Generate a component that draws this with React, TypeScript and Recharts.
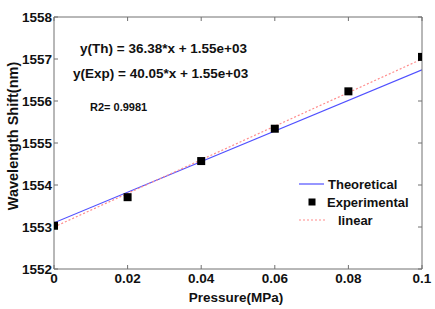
import React from 'react';
import { ComposedChart, Line, Scatter, XAxis, YAxis, Customized } from 'recharts';

const pressure = [0, 0.02, 0.04, 0.06, 0.08, 0.1];
const experimental = [1553.03, 1553.71, 1554.57, 1555.34, 1556.23, 1557.05];
const theoreticalX = [0, 0.1];
const theoreticalY = [1553.1, 1556.74];
const linearX = [0, 0.1];
const linearY = [1553.0, 1557.0];
const xTicks = [0, 0.02, 0.04, 0.06, 0.08, 0.1];
const yTicks = [1552, 1553, 1554, 1555, 1556, 1557, 1558];
const annotations = ['y(Th) = 36.38*x + 1.55e+03', 'y(Exp) = 40.05*x + 1.55e+03', 'R2= 0.9981'];
const legendNames = ['Theoretical', 'Experimental', 'linear'];

const expData = pressure.map((x, i) => ({ x, y: experimental[i] }));
const thData = theoreticalX.map((x, i) => ({ x, y: theoreticalY[i] }));
const linData = linearX.map((x, i) => ({ x, y: linearY[i] }));

const FONT = '"Liberation Sans", Arial, sans-serif';
const AXIS = '#707070';
const BLUE = '#5050ff';
const RED = '#ff8c8c';

const Square = (props: any) => {
  const { cx, cy } = props;
  if (cx == null || cy == null) return null;
  return <rect x={cx - 4} y={cy - 4} width={8} height={8} fill="#000" />;
};
const NoShape = () => <g />;

const Annotations = () => (
  <g fontFamily={FONT} fontWeight="bold" fill="#111">
    <text x={80} y={53} fontSize={13.5}>{annotations[0]}</text>
    <text x={73} y={78} fontSize={13.5}>{annotations[1]}</text>
    <text x={90} y={111} fontSize={11}>{annotations[2]}</text>
    <text x={18} y={136} fontSize={14.5} textAnchor="middle" transform="rotate(-90 18 136)">Wavelength Shift(nm)</text>
    <text x={236} y={302} fontSize={13.5} textAnchor="middle">Pressure(MPa)</text>
    <g transform="translate(299,179)">
      <line x1={0} y1={5} x2={25} y2={5} stroke={BLUE} strokeWidth={1.2} />
      <text x={29} y={10} fontSize={13}>{legendNames[0]}</text>
      <rect x={9.5} y={19.5} width={7} height={7} fill="#000" />
      <text x={28} y={28} fontSize={13}>{legendNames[1]}</text>
      <line x1={0} y1={41} x2={27} y2={41} stroke={RED} strokeWidth={1.2} strokeDasharray="2 2" />
      <text x={39} y={46} fontSize={13}>{legendNames[2]}</text>
    </g>
  </g>
);

const tickStyle = { fontFamily: FONT, fontWeight: 'bold', fontSize: 13.5, fill: '#111' } as any;

export default function App() {
  return (
    <div style={{ position: 'absolute', left: 0, top: 0, width: 435, height: 309, background: '#fff' }}>
      <ComposedChart width={435} height={309} margin={{ top: 16, right: 12, bottom: 0, left: 0 }}>
        <XAxis
          xAxisId="b"
          dataKey="x"
          type="number"
          domain={[0, 0.1]}
          ticks={xTicks}
          allowDataOverflow
          height={40}
          stroke={AXIS}
          tickSize={-4}
          tickMargin={8}
          tick={tickStyle}
          tickFormatter={(v: number) => String(v)}
        />
        <XAxis
          xAxisId="t"
          orientation="top"
          dataKey="x"
          type="number"
          domain={[0, 0.1]}
          ticks={xTicks}
          allowDataOverflow
          height={1}
          stroke={AXIS}
          tickSize={-4}
          tick={NoShape}
        />
        <YAxis
          yAxisId="l"
          dataKey="y"
          type="number"
          domain={[1552, 1558]}
          ticks={yTicks}
          allowDataOverflow
          width={54}
          stroke={AXIS}
          tickSize={-4}
          tickMargin={6}
          tick={tickStyle}
        />
        <YAxis
          yAxisId="r"
          orientation="right"
          dataKey="y"
          type="number"
          domain={[1552, 1558]}
          ticks={yTicks}
          allowDataOverflow
          width={1}
          stroke={AXIS}
          tickSize={-4}
          tick={NoShape}
        />
        <Line xAxisId="b" yAxisId="l" data={thData} dataKey="y" stroke={BLUE} strokeWidth={1.2} dot={false} isAnimationActive={false} />
        <Line xAxisId="b" yAxisId="l" data={linData} dataKey="y" stroke={RED} strokeWidth={1.2} strokeDasharray="2 2" dot={false} isAnimationActive={false} />
        <Scatter xAxisId="t" yAxisId="r" data={expData} dataKey="y" shape={NoShape} isAnimationActive={false} />
        <Scatter xAxisId="b" yAxisId="l" data={expData} dataKey="y" shape={<Square />} isAnimationActive={false} />
        <Customized component={Annotations} />
      </ComposedChart>
    </div>
  );
}
